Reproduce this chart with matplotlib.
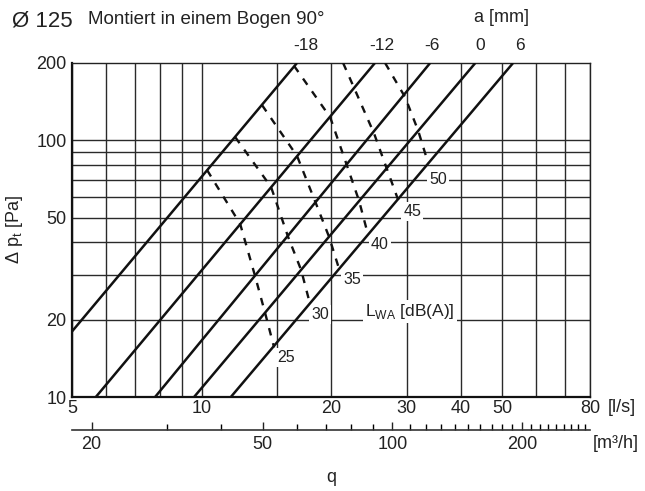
import matplotlib
matplotlib.use("Agg")
import matplotlib.pyplot as plt
from matplotlib.ticker import FixedLocator, FixedFormatter, NullLocator, NullFormatter

plt.rcParams['font.family'] = ['Liberation Sans', 'DejaVu Sans']
plt.rcParams['mathtext.fontset'] = 'custom'
plt.rcParams['mathtext.rm'] = 'Liberation Sans'

# ---------------- data ----------------
# solid lines: damper setting a [mm], straight lines in log-log (two end points each)
a_values = [-18, -12, -6, 0, 6]
solid_q_start = [5.0, 5.68, 7.8, 9.61, 11.7]
solid_dp_start = [18.0, 10.0, 10.0, 10.0, 10.0]
solid_q_end = [16.67, 25.3, 34.0, 43.3, 53.0]
solid_dp_end = [200.0, 200.0, 200.0, 200.0, 200.0]
a_label_q = [17.5, 26.3, 34.4, 44.4, 55.0]

# dashed lines: sound power level L_WA [dB(A)]
lwa_levels = [25, 30, 35, 40, 45, 50]
lwa25_q = [10.30, 12.30, 13.32, 14.06, 14.75]
lwa25_dp = [76.6, 47.2, 29.6, 21.2, 15.6]
lwa30_q = [11.97, 14.51, 15.90, 17.05, 17.88]
lwa30_dp = [103.0, 65.8, 42.0, 31.2, 23.0]
lwa35_q = [13.83, 16.68, 18.47, 19.80, 20.89]
lwa35_dp = [137.0, 86.8, 56.5, 42.0, 31.5]
lwa40_q = [16.41, 19.91, 21.80, 23.25, 24.39]
lwa40_dp = [195.0, 123.0, 79.4, 58.0, 42.8]
lwa45_q = [21.34, 22.63, 25.20, 26.87, 28.66]
lwa45_dp = [200.0, 160.0, 106.0, 78.7, 58.5]
lwa50_q = [26.72, 29.75, 31.89, 33.64]
lwa50_dp = [200.0, 147.0, 109.0, 81.6]
lwa_label_q = [15.7, 18.87, 22.4, 26.0, 30.9, 35.5]
lwa_label_dp = [14.3, 20.9, 28.8, 39.1, 52.6, 70.6]

# axes ticks / grid
x_grid = [5, 6, 7, 8, 9, 10, 15, 20, 30, 40, 50, 60, 70, 80]
x_ticks = [5, 10, 20, 30, 40, 50, 80]
y_grid = [20, 30, 40, 50, 60, 70, 80, 90, 100]
y_ticks = [10, 20, 50, 100, 200]
m3h_major = [20, 50, 100, 200]
m3h_minor = [30, 40, 60, 70, 80, 90, 110, 120, 130, 140, 150, 160, 170, 180, 190,
             210, 220, 230, 240, 250, 260, 270, 280]
ls_to_m3h = 3.6

# ---------------- figure ----------------
W, H = 645, 491
TC = '#222222'
fig = plt.figure(figsize=(W / 100, H / 100), dpi=100)
x0, x1, y0, y1 = 72, 590, 63, 397
ax = fig.add_axes([x0 / W, 1 - y1 / H, (x1 - x0) / W, (y1 - y0) / H])
ax.set_xscale('log')
ax.set_yscale('log')
ax.set_xlim(5, 80)
ax.set_ylim(10, 200)

gcol = '#2a2a2a'
for xv in x_grid:
    ax.axvline(xv, color=gcol, lw=1.0, zorder=1)
for yv in y_grid:
    ax.axhline(yv, color=gcol, lw=1.0, zorder=1)

for qs, ps, qe, pe in zip(solid_q_start, solid_dp_start, solid_q_end, solid_dp_end):
    ax.plot([qs, qe], [ps, pe], color='#111111', lw=1.8, zorder=4,
            solid_capstyle='butt')

dash_q = [lwa25_q, lwa30_q, lwa35_q, lwa40_q, lwa45_q, lwa50_q]
dash_dp = [lwa25_dp, lwa30_dp, lwa35_dp, lwa40_dp, lwa45_dp, lwa50_dp]
for qs, ps in zip(dash_q, dash_dp):
    ax.plot(qs, ps, color='#111111', lw=1.7, ls=(0, (3.2, 3.4)), zorder=4)

box = dict(facecolor='white', edgecolor='none', pad=1.5)
for lev, lq, lp in zip(lwa_levels, lwa_label_q, lwa_label_dp):
    ax.text(lq, lp, str(lev), fontsize=11.5, color=TC, ha='center',
            va='center', bbox=box, zorder=3)
ax.text(24.0, 21.6, 'L$_\\mathregular{WA}$ [dB(A)]', fontsize=12.5,
        color=TC, ha='left', va='center', bbox=box, zorder=3)

ax.xaxis.set_major_locator(FixedLocator(x_ticks))
ax.xaxis.set_major_formatter(FixedFormatter([str(v) for v in x_ticks]))
ax.xaxis.set_minor_locator(NullLocator())
ax.xaxis.set_minor_formatter(NullFormatter())
ax.yaxis.set_major_locator(FixedLocator(y_ticks))
ax.yaxis.set_major_formatter(FixedFormatter([str(v) for v in y_ticks]))
ax.yaxis.set_minor_locator(NullLocator())
ax.yaxis.set_minor_formatter(NullFormatter())
ax.tick_params(axis='both', length=0, labelsize=13, colors=TC)
ax.tick_params(axis='x', pad=2)
ax.tick_params(axis='y', pad=4)

for s in ['left', 'bottom']:
    ax.spines[s].set_linewidth(1.6)
    ax.spines[s].set_color('#111111')
for s in ['top', 'right']:
    ax.spines[s].set_linewidth(1.0)
    ax.spines[s].set_color('#222222')

ax.set_ylabel('Δ p$_\\mathregular{t}$ [Pa]', fontsize=13, color=TC, labelpad=8)

# top axis: damper position a [mm]
top = ax.secondary_xaxis('top')
top.xaxis.set_major_locator(FixedLocator(a_label_q))
top.xaxis.set_major_formatter(FixedFormatter([str(v) for v in a_values]))
top.xaxis.set_minor_locator(NullLocator())
top.tick_params(length=0, labelsize=12.5, colors=TC, pad=7)
top.spines['top'].set_visible(False)

# second bottom axis in m3/h
sec = ax.secondary_xaxis(-0.1, functions=(lambda x: x * ls_to_m3h, lambda x: x / ls_to_m3h))
sec.xaxis.set_major_locator(FixedLocator(m3h_major))
sec.xaxis.set_major_formatter(FixedFormatter([str(v) for v in m3h_major]))
sec.xaxis.set_minor_locator(FixedLocator(m3h_minor))
sec.xaxis.set_minor_formatter(NullFormatter())
sec.tick_params(which='major', direction='in', length=6, width=1.0, labelsize=13,
                colors=TC, pad=4)
sec.tick_params(which='minor', direction='in', length=4, width=1.0)
sec.spines['bottom'].set_linewidth(1.2)
sec.spines['bottom'].set_color('#333333')

# texts
fig.text(12 / W, 1 - 21 / H, 'Ø 125', fontsize=16, color=TC, va='center', ha='left')
fig.text(88 / W, 1 - 20 / H, 'Montiert in einem Bogen 90°', fontsize=13.5, color=TC,
         va='center', ha='left')
fig.text(502 / W, 1 - 18 / H, 'a [mm]', fontsize=13, color=TC, va='center', ha='center')
fig.text(608 / W, 1 - 408 / H, '[l/s]', fontsize=13, color=TC, va='center', ha='left')
fig.text(593 / W, 1 - 443 / H, '[m³/h]', fontsize=13, color=TC, va='center', ha='left')
fig.text(331 / W, 1 - 478 / H, 'q', fontsize=13, color=TC, va='center', ha='center')

fig.savefig('out.png', dpi=100, facecolor='white')
